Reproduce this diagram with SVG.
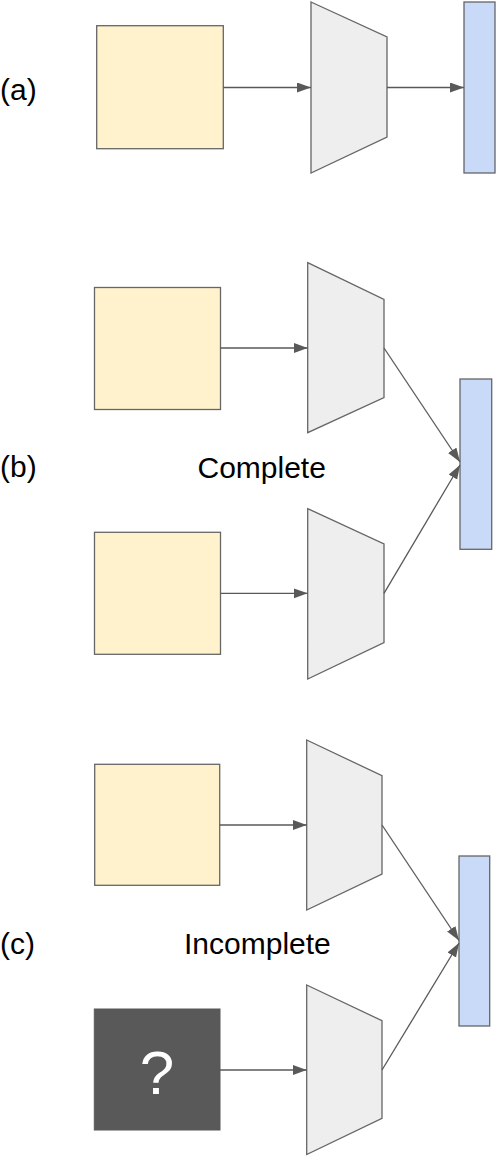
<svg xmlns="http://www.w3.org/2000/svg" width="496" height="1156" viewBox="0 0 496 1156">
<style>
.box{fill:#fff2cc;stroke:#666666;stroke-width:1.3}
.enc{fill:#eeeeee;stroke:#666666;stroke-width:1.3;stroke-linejoin:miter}
.out{fill:#c9daf8;stroke:#666666;stroke-width:1.3}
.miss{fill:#595959;stroke:#595959;stroke-width:1}
.lbl{font-family:"Liberation Sans",Arial,sans-serif;font-size:30px;fill:#000000}
.q{font-family:"Liberation Sans",Arial,sans-serif;font-size:62px;fill:#ffffff;text-anchor:middle}
.conn{stroke:#595959;stroke-width:1.3;fill:none;marker-end:url(#arr)}
</style>
<defs>
<marker id="arr" markerUnits="userSpaceOnUse" markerWidth="15" markerHeight="11" refX="14" refY="5" orient="auto">
<path d="M0,0 L14,5 L0,10 z" fill="#595959"/>
</marker>
</defs>
<g id="labels">
<text class="lbl" x="0" y="100">(a)</text>
<text class="lbl" x="0" y="477">(b)</text>
<text class="lbl" x="0" y="954">(c)</text>
<text class="lbl" x="197.5" y="478">Complete</text>
<text class="lbl" x="184" y="954">Incomplete</text>
</g>
<g id="a-input"><rect class="box" x="96.7" y="25.7" width="126.6" height="123"/></g>
<g id="a-encoder"><polygon class="enc" points="311,2 387,37 387,137 311,173"/></g>
<g id="a-output"><rect class="out" x="464" y="2" width="31" height="171"/></g>
<g id="b-input1"><rect class="box" x="94.5" y="287.5" width="126" height="122"/></g>
<g id="b-encoder1"><polygon class="enc" points="307.7,262.7 384,299.3 384,397.7 307.7,432.7"/></g>
<g id="b-input2"><rect class="box" x="94.5" y="532.3" width="126" height="122"/></g>
<g id="b-encoder2"><polygon class="enc" points="307.7,508.7 384,544 384,642.7 307.7,679"/></g>
<g id="b-output"><rect class="out" x="460" y="379" width="31.7" height="170.3"/></g>
<g id="c-input1"><rect class="box" x="94.7" y="764.3" width="125" height="121"/></g>
<g id="c-encoder1"><polygon class="enc" points="306.7,740 382,775.7 382,874 306.7,910"/></g>
<g id="c-input2"><rect class="miss" x="94.3" y="1009" width="125.7" height="121"/><text class="q" x="157" y="1094">?</text></g>
<g id="c-encoder2"><polygon class="enc" points="306.7,985 382,1020.7 382,1118.3 306.7,1154.5"/></g>
<g id="c-output"><rect class="out" x="459" y="856" width="30.7" height="170"/></g>
<g id="connectors">
<line class="conn" x1="223.3" y1="87.5" x2="311" y2="87.5"/>
<line class="conn" x1="387" y1="87.5" x2="464" y2="87.5"/>
<line class="conn" x1="220.5" y1="348" x2="307.7" y2="348"/>
<line class="conn" x1="220.5" y1="593.3" x2="307.7" y2="593.3"/>
<line class="conn" x1="384" y1="348" x2="460" y2="462"/>
<line class="conn" x1="384" y1="593.3" x2="460" y2="465"/>
<line class="conn" x1="219.7" y1="825" x2="306.7" y2="825"/>
<line class="conn" x1="220" y1="1070" x2="306.7" y2="1070"/>
<line class="conn" x1="382" y1="825" x2="459" y2="940.5"/>
<line class="conn" x1="382" y1="1070" x2="459" y2="943"/>
</g>
</svg>
